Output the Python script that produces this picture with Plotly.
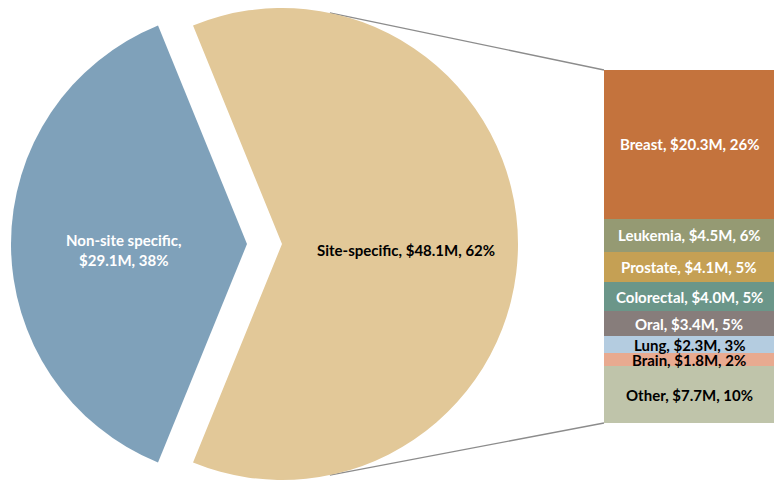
import math
import plotly.graph_objects as go

# Top-level split of funding ($M)
pie_labels = ["Site-specific", "Non-site specific"]
pie_values = [48.1, 29.1]
pie_pcts = ["62%", "38%"]
pie_colors = ["#E2C898", "#7FA1BA"]

# Breakdown of site-specific funding ($M), top to bottom
sites = ["Breast", "Leukemia", "Prostate", "Colorectal", "Oral", "Lung", "Brain", "Other"]
site_values = [20.3, 4.5, 4.1, 4.0, 3.4, 2.3, 1.8, 7.7]
site_pcts = ["26%", "6%", "5%", "5%", "5%", "3%", "2%", "10%"]
site_colors = ["#C4733D", "#959A73", "#C5A054", "#6B9689", "#877D7B", "#B4CCE0", "#E8AA90", "#BFC4AA"]
site_text_colors = ["white", "white", "white", "white", "white", "black", "black", "black"]

W, H = 774, 480
FONT = "Lato"
FSIZE = 15

# Pie geometry (pixels)
R = 236
CX_MAIN, CY = 282, 244          # site-specific slice centre
CX_PULLED = 247                 # non-site slice, pulled to the left

total = sum(pie_values)
site_angle = 360 * pie_values[0] / total
rotation = 90 - site_angle / 2  # centre the site-specific slice on 3 o'clock


def pie_domain(cx):
    return dict(x=[(cx - R) / W, (cx + R) / W], y=[0, 2 * R / H])


fig = go.Figure()

fig.add_trace(go.Pie(
    values=pie_values, labels=pie_labels, sort=False, direction="clockwise",
    rotation=rotation, textinfo="none", showlegend=False,
    marker=dict(colors=[pie_colors[0], "rgba(0,0,0,0)"], line=dict(width=0)),
    domain=pie_domain(CX_MAIN), hoverinfo="label+value",
))
fig.add_trace(go.Pie(
    values=pie_values, labels=pie_labels, sort=False, direction="clockwise",
    rotation=rotation, textinfo="none", showlegend=False,
    marker=dict(colors=["rgba(0,0,0,0)", pie_colors[1]], line=dict(width=0)),
    domain=pie_domain(CX_PULLED), hoverinfo="label+value",
))

# Stacked bar: add from the bottom segment upwards, labelling each segment at its middle
annotations = []
base = 0.0
for name, val, pct, col, tcol in reversed(list(zip(sites, site_values, site_pcts, site_colors, site_text_colors))):
    fig.add_trace(go.Bar(
        x=[0], y=[val], name=name, width=1,
        marker=dict(color=col, line=dict(width=0)),
        showlegend=False, hoverinfo="name+y",
    ))
    annotations.append(dict(
        text=f"{name}, ${val:.1f}M, {pct}", x=0, y=base + val / 2,
        xref="x", yref="y", xanchor="center", yanchor="middle", showarrow=False,
        font=dict(family=FONT, size=FSIZE, color=tcol, weight="bold"),
    ))
    base += val

BAR_X0, BAR_TOP, BAR_BOTTOM = 604, 70, 423
ydom = [1 - BAR_BOTTOM / H, 1 - BAR_TOP / H]
xdom = [BAR_X0 / W, 1]

# Connector lines from the pie edge to the bar corners
link_bearing = 11.7
shapes = []
for bearing, yend in [(link_bearing, ydom[1]), (180 - link_bearing, ydom[0])]:
    px = CX_MAIN + R * math.sin(math.radians(bearing))
    py = CY - R * math.cos(math.radians(bearing))
    shapes.append(dict(
        type="line", xref="paper", yref="paper",
        x0=px / W, y0=1 - py / H, x1=xdom[0], y1=yend,
        line=dict(color="#8C8C8C", width=1.3), layer="below",
    ))

annotations += [
    dict(text=f"{pie_labels[0]}, ${pie_values[0]:.1f}M, {pie_pcts[0]}",
         x=406 / W, y=1 - 250 / H, xref="paper", yref="paper", showarrow=False,
         xanchor="center", yanchor="middle",
         font=dict(family=FONT, size=FSIZE, color="black", weight="bold")),
    dict(text=f"{pie_labels[1]},<br>${pie_values[1]:.1f}M, {pie_pcts[1]}",
         x=124 / W, y=1 - 250 / H, xref="paper", yref="paper", showarrow=False,
         xanchor="center", yanchor="middle",
         font=dict(family=FONT, size=FSIZE, color="white", weight="bold")),
]

fig.update_layout(
    width=W, height=H, margin=dict(l=0, r=0, t=0, b=0),
    paper_bgcolor="white", plot_bgcolor="white",
    barmode="stack", bargap=0, showlegend=False,
    xaxis=dict(domain=xdom, range=[-0.5, 0.5], visible=False, fixedrange=True),
    yaxis=dict(domain=ydom, range=[0, sum(site_values)], visible=False, fixedrange=True),
    font=dict(family=FONT, size=FSIZE),
    shapes=shapes, annotations=annotations,
)

fig.write_html("out.html")
